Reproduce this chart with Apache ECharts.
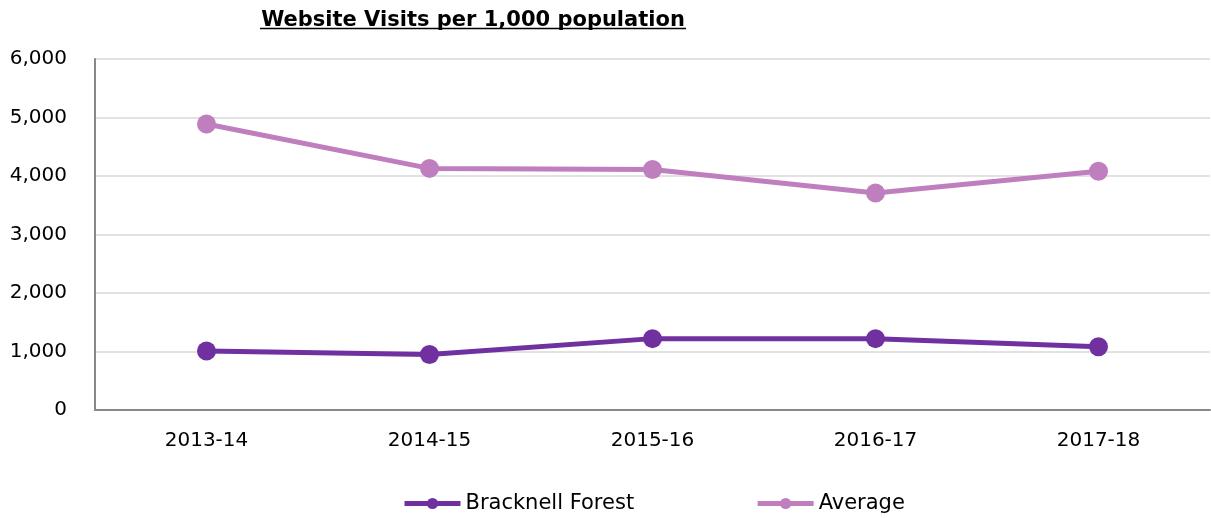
<!DOCTYPE html>
<html>
<head>
<meta charset="utf-8">
<script src="https://cdn.jsdelivr.net/npm/echarts@6/dist/echarts.min.js"></script>
<style>html,body{margin:0;padding:0;background:#fff}#c{width:1211px;height:518px}</style>
</head>
<body>
<div id="c"></div>
<script>
var titleText = 'Website Visits per 1,000 population';
var categories = ['2013-14', '2014-15', '2015-16', '2016-17', '2017-18'];
var bracknell = [1010, 950, 1220, 1220, 1080];
var average = [4890, 4130, 4110, 3710, 4080];
var seriesNames = ['Bracknell Forest', 'Average'];

var font = 'Verdana, "DejaVu Sans", sans-serif';
var chart = echarts.init(document.getElementById('c'));
chart.setOption({
  animation: false,
  title: {
    text: titleText,
    left: 468, top: 5, textAlign: 'center',
    textStyle: {fontFamily: font, fontWeight: 'bold', fontSize: 21, color: '#000'}
  },
  graphic: [{
    type: 'line',
    shape: {x1: 260, y1: 28.5, x2: 686, y2: 28.5},
    style: {stroke: '#000', lineWidth: 1.5}
  }],
  legend: {
    bottom: 4, left: 402, padding: 0,
    itemWidth: 56, itemHeight: 14, itemGap: 121,
    lineStyle: {width: 5},
    textStyle: {fontFamily: font, fontSize: 21, color: '#000', padding: [0, 0, 0, 0]},
    data: seriesNames
  },
  grid: {left: 95, right: 1, top: 59, bottom: 108, containLabel: false},
  xAxis: {
    type: 'category', data: categories, boundaryGap: true,
    axisLine: {lineStyle: {color: '#888', width: 2}},
    axisTick: {show: false},
    axisLabel: {fontFamily: font, fontSize: 20, color: '#000', margin: 21}
  },
  yAxis: {
    type: 'value', min: 0, max: 6000, interval: 1000,
    axisLine: {show: true, lineStyle: {color: '#888', width: 2}},
    axisTick: {show: false},
    splitLine: {lineStyle: {color: '#d9d9d9', width: 1.5}},
    axisLabel: {fontFamily: font, fontSize: 20, color: '#000', margin: 28,
      formatter: function (v) { return v.toLocaleString('en-US'); }}
  },
  series: [
    {name: seriesNames[0], type: 'line', data: bracknell, symbol: 'circle', symbolSize: 19,
     itemStyle: {color: '#7030A0'}, lineStyle: {color: '#7030A0', width: 5}},
    {name: seriesNames[1], type: 'line', data: average, symbol: 'circle', symbolSize: 19,
     itemStyle: {color: '#BF7FBF'}, lineStyle: {color: '#BF7FBF', width: 5}}
  ]
});
</script>
</body>
</html>
